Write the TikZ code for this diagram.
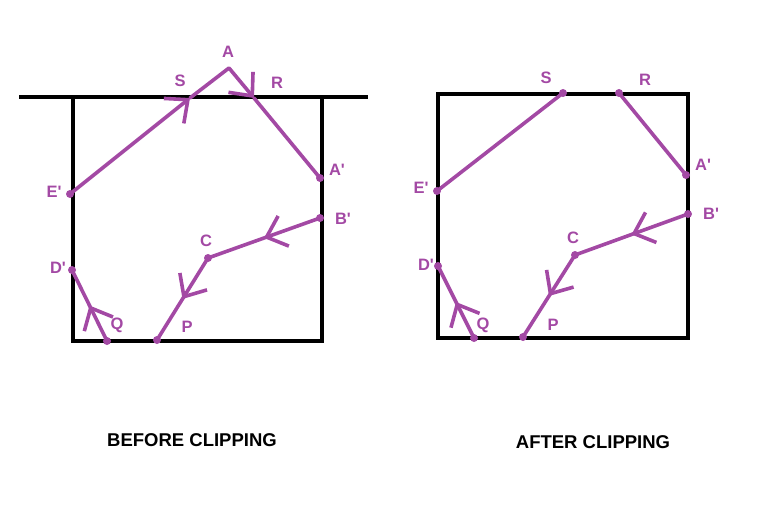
\documentclass[tikz,border=0pt]{standalone}
\usepackage{fontspec}
\setmainfont{Liberation Sans}
\usetikzlibrary{arrows.meta,decorations.markings}
\definecolor{pp}{HTML}{A349A4}
\newcommand{\pr}{\textquotesingle}
\begin{document}
\begin{tikzpicture}[x=1pt,y=-1pt,
  box/.style={line width=4pt, draw=black},
  edge/.style={draw=pp, line width=3.6pt, line cap=round, line join=round},
  lab/.style={text=pp, font=\fontsize{16.5}{16.5}\selectfont\bfseries, inner sep=0pt},
  ttl/.style={text=black, font=\fontsize{18.5}{18.5}\selectfont\bfseries, inner sep=0pt},
  barb/.tip={Straight Barb[length=18pt,width=32pt,line width=3.6pt]},
  midarrow/.style={postaction={decorate}, decoration={markings, mark=at position 0.5 with {\arrow{barb}}}},
]
\useasboundingbox (0,0) rectangle (768,508);
% ---------- left ----------
\coordinate (lTL) at (19,97);
\coordinate (lTR) at (368,97);
\coordinate (lB1) at (73,97);
\coordinate (lB2) at (73,341);
\coordinate (lB3) at (322,341);
\coordinate (lB4) at (322,97);
\draw[box] (lTL) -- (lTR);
\draw[box] (lB1) -- (lB2) -- (lB3) -- (lB4);

\coordinate (lA) at (229,68);
\coordinate (lS) at (190,98);
\coordinate (lR) at (254,98);
\coordinate (lAp) at (320,178);
\coordinate (lEp) at (70,194);
\coordinate (lBp) at (320,218);
\coordinate (lC) at (208,258);
\coordinate (lP) at (157,340);
\coordinate (lQ) at (107,341);
\coordinate (lDp) at (72,270);

\draw[edge,-barb] (lEp) -- (lS);
\draw[edge,-barb] (lS) -- (lA) -- (lR);
\draw[edge] (lR) -- (lAp);
\draw[edge,midarrow] (lBp) -- (lC);
\draw[edge,midarrow] (lC) -- (lP);
\draw[edge,midarrow] (lQ) -- (lDp);
\foreach \p in {lAp,lEp,lBp,lC,lP,lQ,lDp} \fill[pp] (\p) circle (4pt);

\node[lab] (tA) at (228,52) {A};
\node[lab] (tS) at (180,81) {S};
\node[lab] (tR) at (277,83) {R};
\node[lab] (tAp) at (337,170) {A\pr};
\node[lab] (tEp) at (54,192) {E\pr};
\node[lab] (tBp) at (343,219) {B\pr};
\node[lab] (tC) at (206,241) {C};
\node[lab] (tDp) at (58,268) {D\pr};
\node[lab] (tQ) at (117,325) {Q};
\node[lab] (tP) at (187,327) {P};

% ---------- right ----------
\coordinate (rTL) at (438,94);
\coordinate (rBR) at (688,338);
\draw[box] (rTL) rectangle (rBR);

\coordinate (rS) at (563,93);
\coordinate (rR) at (619,93);
\coordinate (rAp) at (686,175);
\coordinate (rEp) at (437,191);
\coordinate (rBp) at (688,214);
\coordinate (rC) at (575,255);
\coordinate (rP) at (523,337);
\coordinate (rQ) at (474,338);
\coordinate (rDp) at (438,266);

\draw[edge] (rEp) -- (rS);
\draw[edge] (rR) -- (rAp);
\draw[edge,midarrow] (rBp) -- (rC);
\draw[edge,midarrow] (rC) -- (rP);
\draw[edge,midarrow] (rQ) -- (rDp);
\foreach \p in {rS,rR,rAp,rEp,rBp,rC,rP,rQ,rDp} \fill[pp] (\p) circle (4pt);

\node[lab] (uS) at (546,78) {S};
\node[lab] (uR) at (645,80) {R};
\node[lab] (uAp) at (703,165) {A\pr};
\node[lab] (uEp) at (421,188) {E\pr};
\node[lab] (uBp) at (711,214) {B\pr};
\node[lab] (uC) at (573,238) {C};
\node[lab] (uDp) at (426,265) {D\pr};
\node[lab] (uQ) at (483,325) {Q};
\node[lab] (uP) at (553,325) {P};

\node[ttl] (t1) at (192,440) {BEFORE CLIPPING};
\node[ttl] (t2) at (593,442) {AFTER CLIPPING};
\end{tikzpicture}
\end{document}
